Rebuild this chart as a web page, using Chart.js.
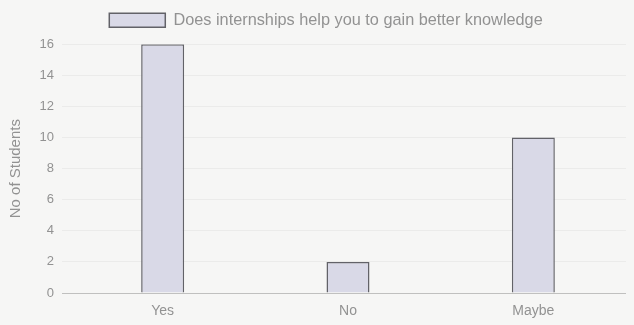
<!DOCTYPE html>
<html>
<head>
<meta charset="utf-8">
<script src="https://cdn.jsdelivr.net/npm/chart.js@4/dist/chart.umd.min.js"></script>
<style>
  html, body { margin: 0; padding: 0; background: #f6f6f5; }
  #wrap { width: 634px; height: 325px; position: relative; }
</style>
</head>
<body>
<div id="wrap"><canvas id="c"></canvas></div>
<script>
const categories = ['Yes', 'No', 'Maybe'];
const studentCounts = [16, 2, 10];
const seriesLabel = 'Does internships help you to gain better knowledge';
const yTicks = [0, 2, 4, 6, 8, 10, 12, 14, 16];

const textGray = '#929292';
const fontFamily = "'Liberation Sans', Arial, Helvetica, sans-serif";

// Extra room under the legend before the plot starts
const legendSpacer = {
  id: 'legendSpacer',
  beforeInit(chart) {
    const fit = chart.legend.fit;
    chart.legend.fit = function () {
      fit.call(this);
      this.height += 6;
    };
  }
};

new Chart(document.getElementById('c'), {
  type: 'bar',
  data: {
    labels: categories,
    datasets: [{
      label: seriesLabel,
      data: studentCounts,
      backgroundColor: '#d9d9e7',
      borderColor: '#626268',
      borderWidth: 1.5,
      categoryPercentage: 0.8,
      barPercentage: 0.29
    }]
  },
  plugins: [legendSpacer],
  options: {
    responsive: true,
    maintainAspectRatio: false,
    animation: false,
    layout: { padding: { left: 26, right: 8, top: 2, bottom: 0 } },
    plugins: {
      legend: {
        position: 'top',
        labels: {
          color: textGray,
          font: { family: fontFamily, size: 16.3 },
          boxWidth: 56,
          boxHeight: 14,
          padding: 10
        }
      },
      tooltip: { enabled: false }
    },
    scales: {
      x: {
        afterFit: (axis) => { axis.height = 32; },
        grid: { display: false, drawTicks: false },
        border: { display: false },
        ticks: { color: textGray, font: { family: fontFamily, size: 14 }, padding: 10 }
      },
      y: {
        min: 0,
        max: 16,
        afterFit: (axis) => { axis.width = 44; },
        afterBuildTicks: (axis) => { axis.ticks = yTicks.map(v => ({ value: v })); },
        grid: {
          color: (ctx) => ctx.tick && ctx.tick.value === 0 ? 'rgba(0,0,0,0.22)' : 'rgba(0,0,0,0.045)',
          tickLength: 8
        },
        border: { display: false },
        ticks: { color: textGray, font: { family: fontFamily, size: 13 }, padding: 8 },
        title: {
          display: true,
          text: 'No of Students',
          color: textGray,
          font: { family: fontFamily, size: 15 },
          padding: { top: -19, bottom: 0 }
        }
      }
    }
  }
});
</script>
</body>
</html>
